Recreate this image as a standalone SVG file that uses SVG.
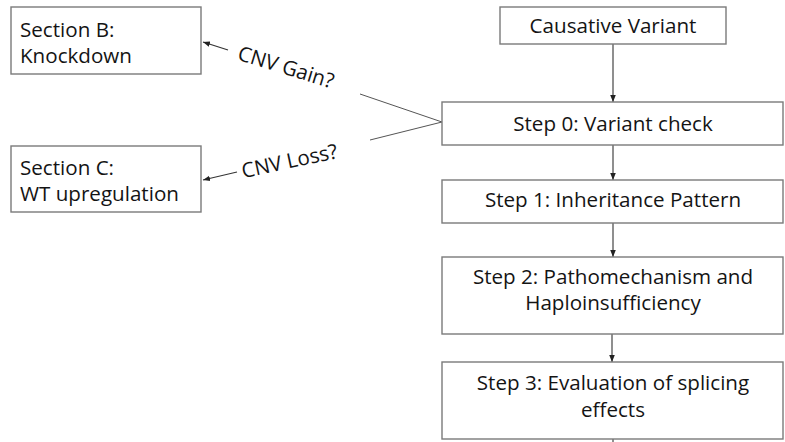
<svg xmlns="http://www.w3.org/2000/svg" width="785" height="442" viewBox="0 0 785 442">
<style>
.box{fill:#fff;stroke:#7a7a7a;stroke-width:1.4}
.t{font-family:"Open Sans","Liberation Sans",sans-serif;font-size:20.6px;fill:#141414}
.c{text-anchor:middle}
.ln{stroke:#333;stroke-width:1.1;fill:none}
.gl{stroke:#555;stroke-width:1;fill:none}
</style>
<defs>
<marker id="ah" viewBox="0 0 10 10" refX="10" refY="5" markerWidth="7" markerHeight="7" markerUnits="userSpaceOnUse" orient="auto">
<path d="M0,1 L10,5 L0,9 Z" fill="#222"/>
</marker>
</defs>
<rect width="785" height="442" fill="#fff"/>
<g id="connectors">
<line class="ln" x1="613" y1="44" x2="613" y2="102" marker-end="url(#ah)"/>
<line class="ln" x1="613" y1="145" x2="613" y2="180" marker-end="url(#ah)"/>
<line class="ln" x1="613" y1="223" x2="613" y2="257" marker-end="url(#ah)"/>
<line class="ln" x1="612" y1="323" x2="612" y2="362" marker-end="url(#ah)"/>
<line class="ln" x1="613" y1="439" x2="613" y2="442"/>
<polyline class="gl" points="360,94 442,122 370,140"/>
<line class="ln" x1="228" y1="50" x2="203" y2="42" marker-end="url(#ah)"/>
<line class="ln" x1="237" y1="172" x2="203" y2="180" marker-end="url(#ah)"/>
<text class="t c" transform="translate(284,74) rotate(17)">CNV Gain?</text>
<text class="t c" transform="translate(291,168) rotate(-12)">CNV Loss?</text>
</g>
<g id="sectionB">
<rect class="box" x="11" y="7" width="190" height="67"/>
<text class="t" x="20" y="37">Section B:</text>
<text class="t" x="20" y="63">Knockdown</text>
</g>
<g id="sectionC">
<rect class="box" x="11" y="146" width="190" height="66"/>
<text class="t" x="20" y="175">Section C:</text>
<text class="t" x="20" y="201">WT upregulation</text>
</g>
<g id="causative">
<rect class="box" x="500" y="7" width="226" height="37"/>
<text class="t c" x="613" y="33">Causative Variant</text>
</g>
<g id="step0">
<rect class="box" x="442" y="102" width="341" height="43"/>
<text class="t c" x="613" y="131">Step 0: Variant check</text>
</g>
<g id="step1">
<rect class="box" x="442" y="180" width="341" height="43"/>
<text class="t c" x="613" y="207">Step 1: Inheritance Pattern</text>
</g>
<g id="step2">
<rect class="box" x="442" y="257" width="341" height="77"/>
<text class="t c" x="613" y="284">Step 2: Pathomechanism and</text>
<text class="t c" x="613" y="310">Haploinsufficiency</text>
</g>
<g id="step3">
<rect class="box" x="442" y="362" width="341" height="77"/>
<text class="t c" x="613" y="390">Step 3: Evaluation of splicing</text>
<text class="t c" x="613" y="417">effects</text>
</g>
</svg>
